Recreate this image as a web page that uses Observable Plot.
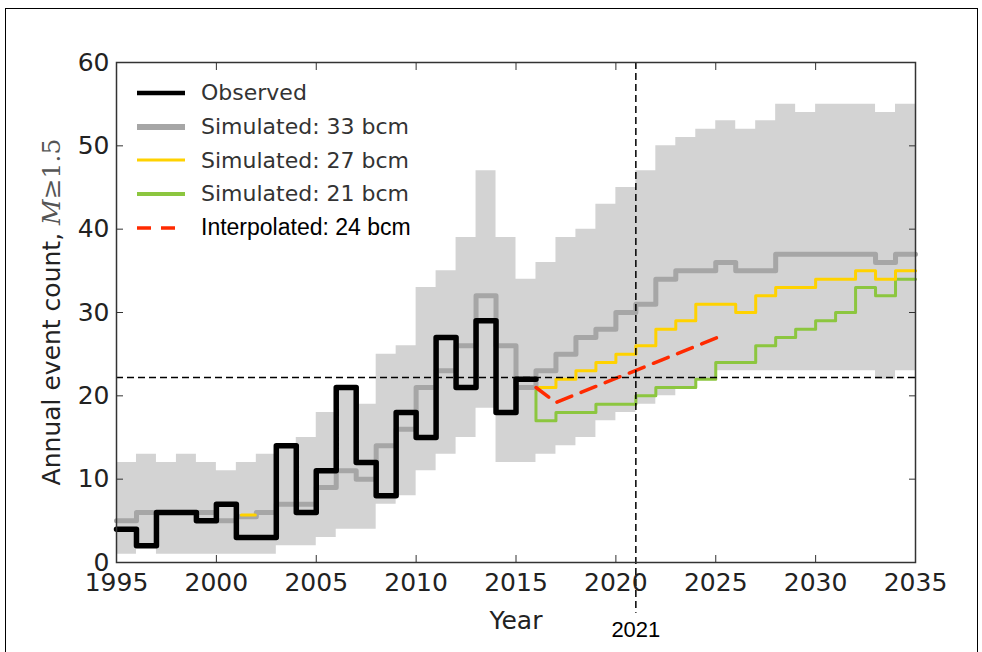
<!DOCTYPE html>
<html><head><meta charset="utf-8">
<script src="https://cdn.jsdelivr.net/npm/d3@7"></script>
<script src="https://cdn.jsdelivr.net/npm/@observablehq/plot@0.6"></script>
<style>
body{margin:0;background:#fff;}
#wrap{position:relative;width:982px;height:652px;overflow:hidden;background:#fff;}
#chart{position:absolute;left:0;top:0;}
#border{position:absolute;left:5px;top:8px;width:973px;height:720px;border:1.5px solid #000;box-sizing:border-box;pointer-events:none;}
#legend{position:absolute;left:137px;top:76px;}
.row{display:flex;align-items:center;height:33.7px;}
.row svg{display:block;}
.row span{margin-left:16px;font-family:"DejaVu Sans",sans-serif;font-size:22px;color:#333;white-space:pre;}
.row span.arial{font-family:"Liberation Sans",Arial,sans-serif;font-size:23px;color:#000;}
</style></head>
<body>
<div id="wrap"><div id="chart"></div><div id="legend"></div><div id="border"></div></div>
<script>
// ---------- data ----------
const startYear = 1995;
const endYear = 2035;
// observed annual counts, 1995..2015
const observed = [4,2,6,6,5,7,3,3,14,6,11,21,12,8,18,15,27,21,29,18,22];
// simulated 33 bcm (mean), 1995..2034
const sim33 = [5,6,6,6,6,5,5.5,6,7,7,9,11,10,14,16,21,23,26,32,26,21,23,25,27,28,30,31,34,35,35,36,35,35,37,37,37,37,37,36,37];
// future scenarios start year and values, 2015..2034
const futureStart = 2015;
const sim27 = [21,21,22,23,24,25,26,28,29,31,31,30,32,33,33,34,34,35,34,35];
const sim21 = [21,17,18,18,19,19,20,21,21,22,24,24,26,27,28,29,30,33,32,34];
// uncertainty band for 33 bcm, 1995..2034
const bandLow  = [1,2,1,1,1,1,1,1,2,2,3,4,4,7,8,11,13,15,18.5,12,12,13,14,15,17,18,19,20,21,22,23,23,23,23,23,23,23,23,22,23];
const bandHigh = [12,13,12,13,12,11,12,13,14,15,18,21,19,25,26,33,35,39,47,39,34,36,39,40,43,45,47,50,51,52,53,52,53,55,54,55,55,55,54,55];
// interpolated 24 bcm
const interpYears  = [2016, 2017, 2025.4];
const interpValues = [21, 19.2, 27.3];
// short visible piece of the 27 bcm curve in the history
const blipYears  = [2001.25, 2001.95];
const blipValues = [5.7, 5.7];
// reference lines
const thresholdCount = 22.2;
const markerYear = 2021;
const markerLineBottom = -6.1;
// ticks
const xTicks = [1995,2000,2005,2010,2015,2020,2025,2030,2035];
const yTicks = [0,10,20,30,40,50,60];
// legend
const legendLabels = ["Observed","Simulated: 33 bcm","Simulated: 27 bcm","Simulated: 21 bcm","Interpolated: 24 bcm"];

// ---------- helpers ----------
function steps(start, values){
  const pts = values.map((v,i)=>({year:start+i, v}));
  pts.push({year:start+values.length, v:values[values.length-1]});
  return pts;
}
const band = bandLow.map((lo,i)=>({year:startYear+i, lo, hi:bandHigh[i]}));
band.push({year:startYear+bandLow.length, lo:bandLow[bandLow.length-1], hi:bandHigh[bandHigh.length-1]});
const interp = interpYears.map((y,i)=>({year:y, v:interpValues[i]}));
const blip = blipYears.map((y,i)=>({year:y, v:blipValues[i]}));

const C = {band:"#d3d3d3", s33:"#a6a6a6", s27:"#ffd200", s21:"#8cc63f", obs:"#000000", red:"#ff2a00"};

const chart = Plot.plot({
  width: 982, height: 652,
  marginLeft: 116, marginRight: 67, marginTop: 62, marginBottom: 90,
  x: {domain:[startYear, endYear]},
  y: {domain:[0, 60]},
  style: {fontFamily:"'DejaVu Sans', sans-serif", fontSize:"25px", color:"#222", background:"transparent", overflow:"visible"},
  marks: [
    Plot.areaY(band, {x:"year", y1:"lo", y2:"hi", curve:"step-after", fill:C.band}),
    Plot.line(steps(futureStart, sim21), {x:"year", y:"v", curve:"step-after", stroke:C.s21, strokeWidth:3}),
    Plot.line(steps(futureStart, sim27), {x:"year", y:"v", curve:"step-after", stroke:C.s27, strokeWidth:3}),
    Plot.line(steps(startYear, sim33), {x:"year", y:"v", curve:"step-after", stroke:C.s33, strokeWidth:5}),
    Plot.line(blip, {x:"year", y:"v", stroke:C.s27, strokeWidth:3}),
    Plot.line(steps(startYear, observed), {x:"year", y:"v", curve:"step-after", stroke:C.obs, strokeWidth:5.5}),
    Plot.line(interp, {x:"year", y:"v", stroke:C.red, strokeWidth:3.5, strokeDasharray:"16,10"}),
    Plot.ruleY([thresholdCount], {stroke:"#000", strokeWidth:1.5, strokeDasharray:"7,4"}),
    Plot.ruleX([markerYear], {y1:60, y2:markerLineBottom, stroke:"#000", strokeWidth:1.5, strokeDasharray:"7,4"}),
    Plot.text([markerYear], {x:d=>d, text:d=>String(d), frameAnchor:"bottom", dy:74, fontFamily:"'Liberation Sans', Arial, sans-serif", fontSize:22, fill:"#000"}),
    Plot.text(["Year"], {frameAnchor:"bottom", dy:66, fontSize:25, fill:"#222"}),
    Plot.axisX({anchor:"bottom", ticks:xTicks, tickSize:-7, tickPadding:18, tickFormat:d=>String(d), fontSize:25, label:null, stroke:"#333"}),
    Plot.axisX({anchor:"top", ticks:xTicks, tickSize:-7, tickFormat:()=>"", label:null, stroke:"#333"}),
    Plot.axisY({anchor:"left", ticks:yTicks, tickSize:-7, tickPadding:14, tickFormat:d=>String(d), fontSize:25, label:null, stroke:"#333"}),
    Plot.axisY({anchor:"right", ticks:yTicks, tickSize:-7, tickFormat:()=>"", label:null, stroke:"#333"}),
    Plot.frame({stroke:"#333", strokeWidth:1.5})
  ]
});
document.getElementById("chart").appendChild(chart);

// y axis label with math part
const svg = d3.select(chart);
const yl = svg.append("text")
  .attr("transform","translate(51,312) rotate(-90)")
  .attr("text-anchor","middle")
  .attr("dominant-baseline","central")
  .attr("fill","#222")
  .style("font-family","'DejaVu Sans', sans-serif")
  .style("font-size","25px");
yl.append("tspan").text("Annual event count, ");
yl.append("tspan").text("M").style("font-family","'DejaVu Serif', serif").style("font-style","italic").attr("fill","#555");
yl.append("tspan").text("\u22651.5").style("font-family","'DejaVu Serif', serif").attr("fill","#555");

// legend
const legendStyles = [
  {stroke:C.obs, width:4.5, dash:null, cls:""},
  {stroke:C.s33, width:6, dash:null, cls:""},
  {stroke:C.s27, width:3, dash:null, cls:""},
  {stroke:C.s21, width:4, dash:null, cls:""},
  {stroke:C.red, width:3.5, dash:"14,10", cls:"arial"}
];
const lg = d3.select("#legend");
legendLabels.forEach((lab,i)=>{
  const st = legendStyles[i];
  const row = lg.append("div").attr("class","row");
  const s = row.append("svg").attr("width",48).attr("height",12);
  const l = s.append("line").attr("x1",0).attr("x2",48).attr("y1",6).attr("y2",6)
    .attr("stroke",st.stroke).attr("stroke-width",st.width);
  if (st.dash) l.attr("stroke-dasharray",st.dash);
  row.append("span").attr("class",st.cls).text(lab);
});
</script>
</body></html>
